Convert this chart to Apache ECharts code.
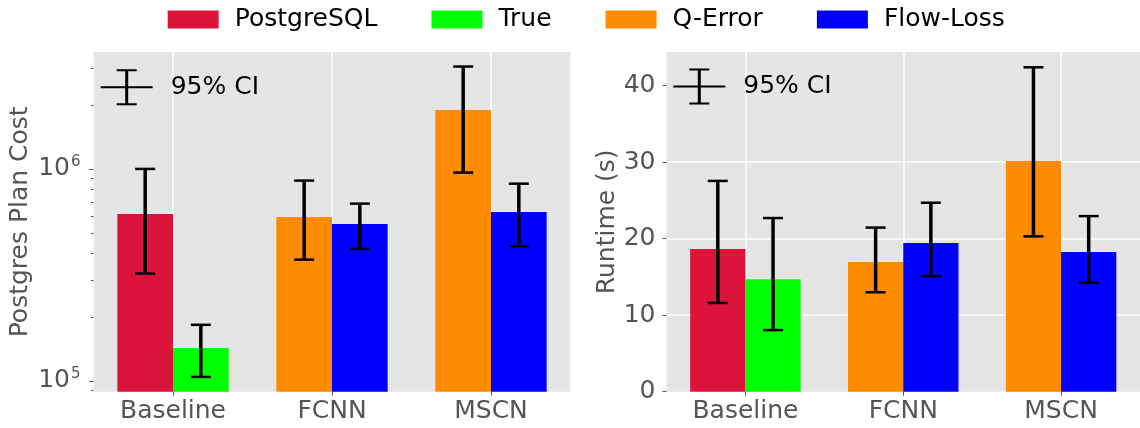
<!DOCTYPE html>
<html>
<head>
<meta charset="utf-8">
<script src="https://cdn.jsdelivr.net/npm/echarts@6/dist/echarts.min.js"></script>
<style>
  html, body { margin: 0; padding: 0; background: #ffffff; }
  #chart { width: 1140px; height: 428px; }
</style>
</head>
<body>
<div id="chart"></div>
<script>
// ---- data -------------------------------------------------------------
const categories = ['Baseline', 'FCNN', 'MSCN'];
const seriesNames = ['PostgreSQL', 'True', 'Q-Error', 'Flow-Loss'];
const seriesColors = ['#DC143C', '#00FF00', '#FF8C00', '#0000FF'];

// Postgres plan cost (mean per category, null = no bar)
const costPostgres = [613000, null, null];
const costTrue = [143000, null, null];
const costQError = [null, 594000, 1898000];
const costFlowLoss = [null, 550000, 627000];
// 95% confidence intervals [low, high]
const costPostgresCI = [[321000, 1000000], null, null];
const costTrueCI = [[104500, 184000], null, null];
const costQErrorCI = [null, [373500, 881000], [961000, 3040000]];
const costFlowLossCI = [null, [419500, 686000], [432000, 852000]];

// Runtime in seconds
const runPostgres = [18.65, null, null];
const runTrue = [14.7, null, null];
const runQError = [null, 16.95, 30.15];
const runFlowLoss = [null, 19.45, 18.25];
const runPostgresCI = [[11.6, 27.55], null, null];
const runTrueCI = [[8.05, 22.7], null, null];
const runQErrorCI = [null, [13.0, 21.45], [20.3, 42.4]];
const runFlowLossCI = [null, [15.1, 24.7], [14.25, 22.95]];

// axis ranges and ticks
const costRange = [89000, 3560000];
const costMajorTicks = [1e5, 1e6];
const costMinorTicks = [9e4, 2e5, 3e5, 4e5, 5e5, 6e5, 7e5, 8e5, 9e5, 2e6, 3e6];
const runRange = [0, 44.4];
const runTicks = [0, 10, 20, 30, 40];

// ---- styling ----------------------------------------------------------
const FONT = 'DejaVu Sans';
const TICK_GREY = '#555555';
const PANEL_BG = '#E5E5E5';

// error-bar glyph used by the "95% CI" keys
const CI_ICON = 'path://M0,17H52V19H0Z M24.5,0H27.5V36H24.5Z M16,0H36V2H16Z M16,34H36V36H16Z';

function barSeries(name, color, values, xAxisIndex, yAxisIndex) {
  return {
    type: 'bar', name: name, xAxisIndex: xAxisIndex, yAxisIndex: yAxisIndex,
    data: values.map(v => (v == null ? '-' : v)),
    barWidth: '35%', barGap: '0%', clip: true,
    itemStyle: { color: color }, emphasis: { disabled: true }, z: 2
  };
}

// rows: [category index, low, high, side (-1 left bar, +1 right bar)]
function ciRows(ciLists) {
  const rows = [];
  ciLists.forEach(([list, side]) => {
    list.forEach((ci, i) => { if (ci) rows.push([i, ci[0], ci[1], side]); });
  });
  return rows;
}

function ciSeries(rows, xAxisIndex, yAxisIndex) {
  return {
    type: 'custom', name: '95% CI', xAxisIndex: xAxisIndex, yAxisIndex: yAxisIndex,
    data: rows, encode: { x: 0, y: [1, 2] }, z: 5, clip: false,
    itemStyle: { color: '#000000' },
    renderItem: function (params, api) {
      const cat = api.value(0), lo = api.value(1), hi = api.value(2), side = api.value(3);
      const band = api.size([1, 0])[0];
      const pLo = api.coord([cat, lo]);
      const pHi = api.coord([cat, hi]);
      const x = pLo[0] + side * band * 0.175;
      const cap = 10;
      const capStyle = { stroke: '#000000', lineWidth: 2.5 };
      return {
        type: 'group',
        children: [
          { type: 'line', shape: { x1: x, y1: pHi[1], x2: x, y2: pLo[1] }, style: { stroke: '#000000', lineWidth: 3.5 } },
          { type: 'line', shape: { x1: x - cap, y1: pHi[1], x2: x + cap, y2: pHi[1] }, style: capStyle },
          { type: 'line', shape: { x1: x - cap, y1: pLo[1], x2: x + cap, y2: pLo[1] }, style: capStyle }
        ]
      };
    }
  };
}

function catAxis(gridIndex, shown) {
  return {
    type: 'category', gridIndex: gridIndex, data: categories, show: shown,
    axisLine: { show: false },
    axisTick: { show: true, alignWithLabel: true, length: 4, lineStyle: { color: TICK_GREY, width: 1 } },
    axisLabel: { fontSize: 25, fontFamily: FONT, color: TICK_GREY, margin: 7 },
    splitLine: { show: true, alignWithLabel: true, lineStyle: { color: '#ffffff', width: 1.5 } }
  };
}

const axisNameStyle = { fontSize: 25, fontFamily: FONT, color: TICK_GREY };
const ciLegendText = { fontSize: 25, fontFamily: FONT, color: '#000000', padding: [0, 0, 0, 13] };

const option = {
  animation: false,
  backgroundColor: '#ffffff',
  textStyle: { fontFamily: FONT },
  legend: [
    {
      data: seriesNames, left: 162.7, top: 2, orient: 'horizontal',
      icon: 'rect', itemWidth: 51, itemHeight: 18, itemGap: 54, selectedMode: false,
      textStyle: { fontSize: 25, fontFamily: FONT, color: '#000000', padding: [0, 0, 0, 11] }
    },
    {
      data: [{ name: '95% CI', icon: CI_ICON }], left: 100.7, top: 69.3,
      itemWidth: 52, itemHeight: 36, selectedMode: false, padding: 0,
      textStyle: ciLegendText
    },
    {
      data: [{ name: '95% CI', icon: CI_ICON }], left: 673.3, top: 68.5,
      itemWidth: 52, itemHeight: 36, selectedMode: false, padding: 0,
      textStyle: ciLegendText
    }
  ],
  grid: [
    { left: 93.5, top: 52, width: 477, height: 339.7, show: true, backgroundColor: PANEL_BG, borderWidth: 0 },
    { left: 666.5, top: 52, width: 477, height: 339.7, show: true, backgroundColor: PANEL_BG, borderWidth: 0 }
  ],
  xAxis: [catAxis(0, true), catAxis(0, false), catAxis(1, true), catAxis(1, false)],
  yAxis: [
    {
      type: 'log', logBase: 10, gridIndex: 0, position: 'left', min: costRange[0], max: costRange[1],
      name: 'Postgres Plan Cost', nameLocation: 'middle', nameGap: 61, nameTextStyle: axisNameStyle,
      axisLine: { show: false },
      axisTick: { show: true, length: 4.5, customValues: costMajorTicks, lineStyle: { color: TICK_GREY, width: 1 } },
      axisLabel: {
        customValues: costMajorTicks, margin: 13, color: TICK_GREY,
        formatter: function (v) {
          const exp = Math.round(Math.log10(v));
          return '{b|10}{s|' + exp + '}';
        },
        rich: {
          b: { fontSize: 25, fontFamily: FONT, color: TICK_GREY, lineHeight: 28 },
          s: { fontSize: 15, fontFamily: FONT, color: TICK_GREY, verticalAlign: 'top', lineHeight: 28, padding: [0, 0, 16, 1] }
        }
      },
      splitLine: { show: true, showMinLine: false, showMaxLine: false, lineStyle: { color: '#ffffff', width: 1.5 } }
    },
    {
      type: 'log', logBase: 10, gridIndex: 0, position: 'left', offset: 0, min: costRange[0], max: costRange[1],
      axisLine: { show: false }, axisLabel: { show: false }, splitLine: { show: false },
      axisTick: { show: true, length: 2.5, customValues: costMinorTicks, lineStyle: { color: TICK_GREY, width: 1 } }
    },
    {
      type: 'value', gridIndex: 1, min: runRange[0], max: runRange[1], interval: 10,
      name: 'Runtime (s)', nameLocation: 'middle', nameGap: 47, nameTextStyle: axisNameStyle,
      axisLine: { show: false },
      axisTick: { show: true, length: 4, customValues: runTicks, lineStyle: { color: TICK_GREY, width: 1 } },
      axisLabel: { customValues: runTicks, margin: 11, fontSize: 25, fontFamily: FONT, color: TICK_GREY },
      splitLine: { show: true, showMinLine: false, showMaxLine: false, lineStyle: { color: '#ffffff', width: 1.5 } }
    }
  ],
  series: [
    barSeries(seriesNames[0], seriesColors[0], costPostgres, 0, 0),
    barSeries(seriesNames[1], seriesColors[1], costTrue, 0, 0),
    barSeries(seriesNames[2], seriesColors[2], costQError, 1, 0),
    barSeries(seriesNames[3], seriesColors[3], costFlowLoss, 1, 0),
    ciSeries(ciRows([[costPostgresCI, -1], [costTrueCI, 1], [costQErrorCI, -1], [costFlowLossCI, 1]]), 0, 0),

    barSeries(seriesNames[0], seriesColors[0], runPostgres, 2, 2),
    barSeries(seriesNames[1], seriesColors[1], runTrue, 2, 2),
    barSeries(seriesNames[2], seriesColors[2], runQError, 3, 2),
    barSeries(seriesNames[3], seriesColors[3], runFlowLoss, 3, 2),
    ciSeries(ciRows([[runPostgresCI, -1], [runTrueCI, 1], [runQErrorCI, -1], [runFlowLossCI, 1]]), 2, 2)
  ]
};

const chart = echarts.init(document.getElementById('chart'), null, { renderer: 'canvas' });
chart.setOption(option);
</script>
</body>
</html>
